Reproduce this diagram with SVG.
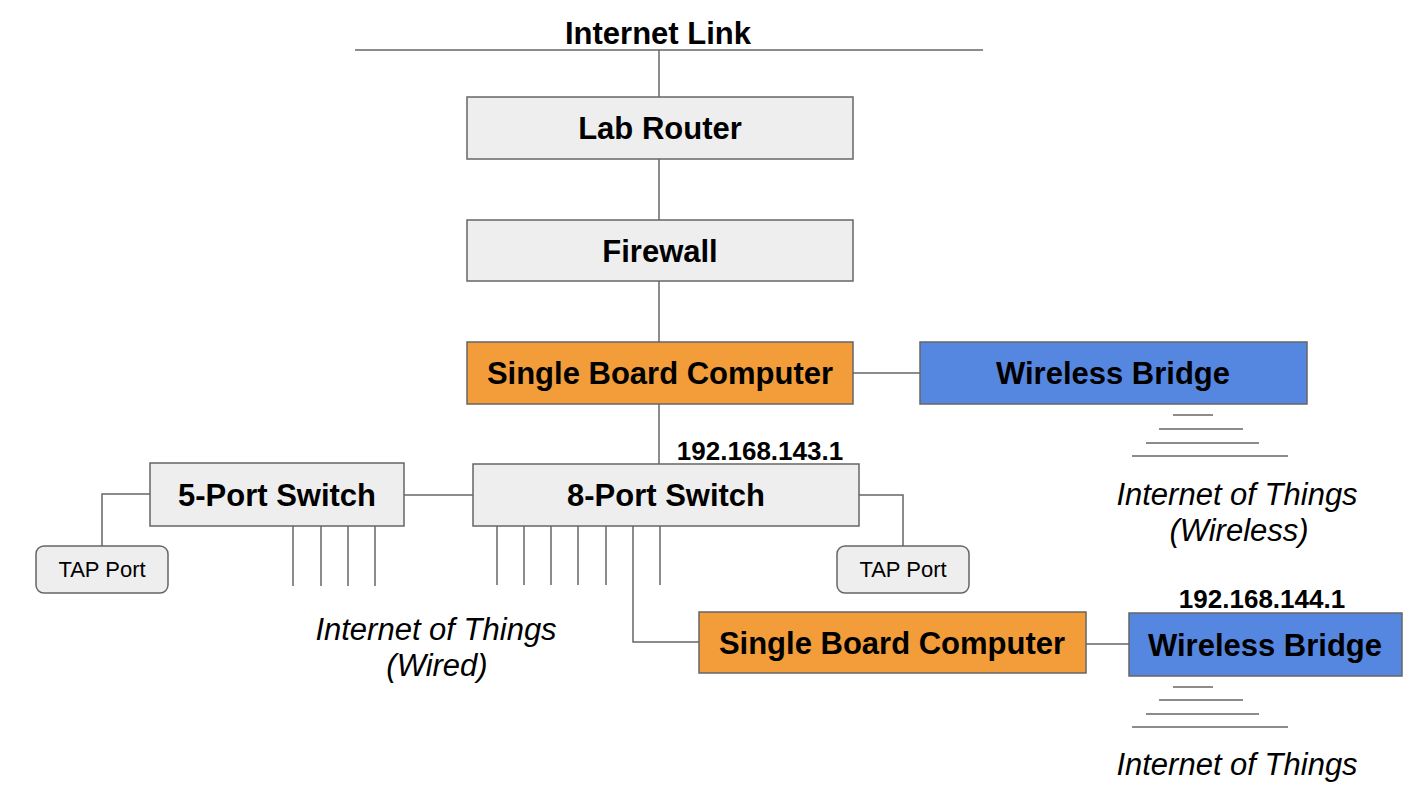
<svg xmlns="http://www.w3.org/2000/svg" width="1426" height="798" viewBox="0 0 1426 798">
<style>
.box{stroke:#666666;stroke-width:1.5}
.gray{fill:#eeeeee}
.orange{fill:#f29d3a}
.blue{fill:#5687e0}
.lbl{font-family:"Liberation Sans",Arial,sans-serif;font-weight:bold;font-size:31px;fill:#000;text-anchor:middle}
.ip{font-family:"Liberation Sans",Arial,sans-serif;font-weight:bold;font-size:26px;fill:#000;text-anchor:middle}
.tap{font-family:"Liberation Sans",Arial,sans-serif;font-size:22px;fill:#000;text-anchor:middle}
.it{font-family:"Liberation Sans",Arial,sans-serif;font-style:italic;font-size:31px;fill:#000;text-anchor:middle}
.ln{stroke:#666666;stroke-width:1.5;fill:none}
</style>
<rect width="1426" height="798" fill="#ffffff"/>
<g id="connectors" class="ln">
<line x1="355" y1="50" x2="983" y2="50"/>
<line x1="659" y1="50" x2="659" y2="97"/>
<line x1="659" y1="159" x2="659" y2="220"/>
<line x1="659" y1="281" x2="659" y2="342"/>
<line x1="853" y1="373" x2="920" y2="373"/>
<line x1="659" y1="404" x2="659" y2="464"/>
<line x1="404" y1="495" x2="473" y2="495"/>
<polyline points="150,494 102,494 102,546"/>
<polyline points="859,495 903,495 903,546"/>
<line x1="293" y1="526" x2="293" y2="586"/>
<line x1="321" y1="526" x2="321" y2="586"/>
<line x1="348" y1="526" x2="348" y2="586"/>
<line x1="375" y1="526" x2="375" y2="586"/>
<line x1="497" y1="526" x2="497" y2="585"/>
<line x1="524" y1="526" x2="524" y2="585"/>
<line x1="551" y1="526" x2="551" y2="585"/>
<line x1="578" y1="526" x2="578" y2="585"/>
<line x1="606" y1="526" x2="606" y2="585"/>
<line x1="660" y1="526" x2="660" y2="585"/>
<polyline points="633,526 633,642 699,642"/>
<line x1="1086" y1="644" x2="1129" y2="644"/>
</g>
<g id="wireless1" class="ln">
<line x1="1173" y1="415" x2="1213" y2="415"/>
<line x1="1159" y1="429" x2="1243" y2="429"/>
<line x1="1146" y1="443" x2="1259" y2="443"/>
<line x1="1132" y1="456" x2="1288" y2="456"/>
</g>
<g id="wireless2" class="ln">
<line x1="1173" y1="687" x2="1213" y2="687"/>
<line x1="1159" y1="700" x2="1243" y2="700"/>
<line x1="1146" y1="714" x2="1259" y2="714"/>
<line x1="1132" y1="727" x2="1288" y2="727"/>
</g>
<g id="internet-link"><text class="lbl" x="658" y="44">Internet Link</text></g>
<g id="lab-router"><rect class="box gray" x="467" y="97" width="386" height="62"/><text class="lbl" x="660" y="139">Lab Router</text></g>
<g id="firewall"><rect class="box gray" x="467" y="220" width="386" height="61"/><text class="lbl" x="660" y="262">Firewall</text></g>
<g id="sbc1"><rect class="box orange" x="467" y="342" width="386" height="62"/><text class="lbl" x="660" y="384">Single Board Computer</text></g>
<g id="wb1"><rect class="box blue" x="920" y="342" width="387" height="62"/><text class="lbl" x="1113" y="384">Wireless Bridge</text></g>
<g id="ip1"><text class="ip" x="760" y="460">192.168.143.1</text></g>
<g id="switch5"><rect class="box gray" x="150" y="463" width="254" height="63"/><text class="lbl" x="277" y="506">5-Port Switch</text></g>
<g id="switch8"><rect class="box gray" x="473" y="464" width="386" height="62"/><text class="lbl" x="666" y="506">8-Port Switch</text></g>
<g id="tap-left"><rect class="box gray" x="36" y="546" width="132" height="47" rx="8"/><text class="tap" x="102" y="577">TAP Port</text></g>
<g id="tap-right"><rect class="box gray" x="837" y="546" width="132" height="47" rx="8"/><text class="tap" x="903" y="577">TAP Port</text></g>
<g id="iot-wireless"><text class="it" x="1237" y="505">Internet of Things</text><text class="it" x="1239" y="541">(Wireless)</text></g>
<g id="iot-wired"><text class="it" x="436" y="640">Internet of Things</text><text class="it" x="437" y="676">(Wired)</text></g>
<g id="ip2"><text class="ip" x="1262" y="608">192.168.144.1</text></g>
<g id="sbc2"><rect class="box orange" x="699" y="612" width="387" height="61"/><text class="lbl" x="892" y="654">Single Board Computer</text></g>
<g id="wb2"><rect class="box blue" x="1129" y="613" width="273" height="63"/><text class="lbl" x="1265" y="656">Wireless Bridge</text></g>
<g id="iot-3"><text class="it" x="1237" y="775">Internet of Things</text></g>
</svg>
